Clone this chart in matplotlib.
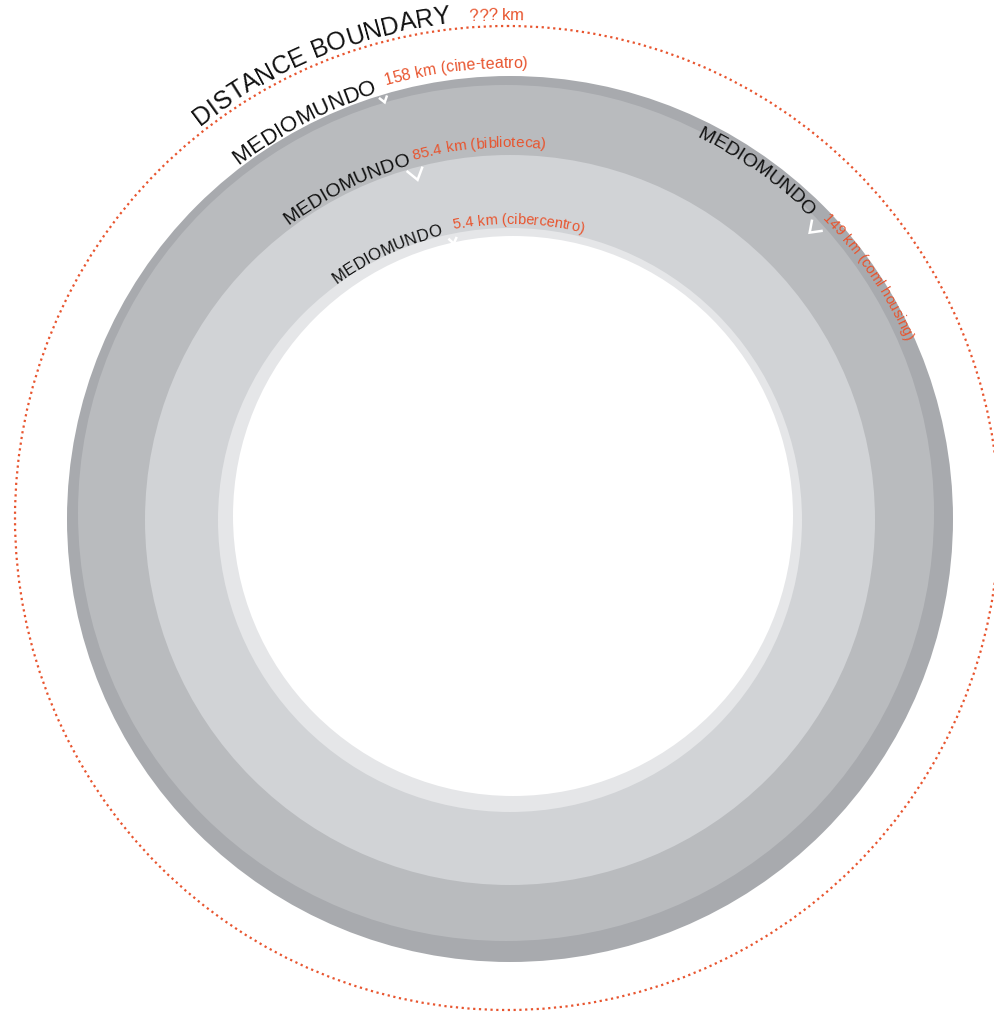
import numpy as np
import matplotlib
matplotlib.use('Agg')
import matplotlib.pyplot as plt
from matplotlib.patches import Circle
from matplotlib.font_manager import FontProperties

W, H = 994, 1016

# grey rings, outer to inner (image pixels, y down)
ring_cx = [510, 506, 510, 510, 513]
ring_cy = [519, 513, 520, 520, 516]
ring_r = [443, 428, 365, 292, 280]
ring_colors = ['#a8aaae', '#b9bbbe', '#d1d3d6', '#e5e6e8', '#ffffff']

# distance boundary
bound_cx, bound_cy, bound_r = 507, 518, 492
bound_title = 'DISTANCE BOUNDARY'
bound_value = '??? km'

# ring labels
label_text = ['MEDIOMUNDO', 'MEDIOMUNDO', 'MEDIOMUNDO', 'MEDIOMUNDO']
label_r = [447, 369, 293, 426]
label_start = [127.4, 127.0, 126.3, 64.0]
label_size = [16, 14, 12, 14]
dist_text = ['158 km (cine-teatro)', '85.4 km (biblioteca)',
             '5.4 km (cibercentro)', '149 km (coml housing)']
dist_r = [452, 373, 296, 434]
dist_start = [106.0, 105.0, 101.0, 44.0]
dist_size = [11.5, 11, 10.5, 10.5]
mark_angle = [106.7, 105.2, 101.5, 43.8]
mark_r = [441, 363, 287, 425]
mark_size = [7, 15, 7, 14]

cx0, cy0 = 510, 520
red = '#e8552f'

fig = plt.figure(figsize=(W / 100, H / 100), dpi=100)
ax = fig.add_axes([0, 0, 1, 1])
ax.set_xlim(0, W)
ax.set_ylim(H, 0)
ax.axis('off')

for x, y, r, c in zip(ring_cx, ring_cy, ring_r, ring_colors):
    ax.add_patch(Circle((x, y), r, fc=c, ec='none'))

ax.add_patch(Circle((bound_cx, bound_cy), bound_r, fill=False, ec=red,
                    lw=1.6, ls=(0, (1, 1.6))))

renderer = fig.canvas.get_renderer()


def text_w(s, fp):
    w, h, d = renderer.get_text_width_height_descent(s, fp, ismath=False)
    return w


def curved(text, cx, cy, r, start, size, color):
    # clockwise along circle, letters upright outward
    fp = FontProperties(family='Liberation Sans', size=size)
    th = np.radians(start)
    base = text_w('||', fp)
    for ch in text:
        dth = (text_w('|' + ch + '|', fp) - base) / r
        tc = th - dth / 2
        if ch != ' ':
            ax.text(cx + r * np.cos(tc), cy - r * np.sin(tc), ch,
                    fontproperties=fp, color=color,
                    rotation=np.degrees(tc) - 90, rotation_mode='anchor',
                    ha='center', va='baseline')
        th -= dth


def chevron(cx, cy, r, ang, s):
    a = np.radians(ang)
    da = (s / 2) / r
    rr = [r, r - s * 0.7, r]
    aa = [a + da, a, a - da]
    xs = [cx + q * np.cos(t) for q, t in zip(rr, aa)]
    ys = [cy - q * np.sin(t) for q, t in zip(rr, aa)]
    ax.plot(xs, ys, color='white', lw=1.8, solid_joinstyle='miter')


curved(bound_title, bound_cx, bound_cy, 498, 128.0, 18, '#111111')
curved(bound_value, bound_cx, bound_cy, 498, 94.3, 12, red)

for i in range(4):
    curved(label_text[i], cx0, cy0, label_r[i], label_start[i], label_size[i], '#111111')
    curved(dist_text[i], cx0, cy0, dist_r[i], dist_start[i], dist_size[i], red)
    chevron(cx0, cy0, mark_r[i], mark_angle[i], mark_size[i])

fig.savefig('out.png', dpi=100)
